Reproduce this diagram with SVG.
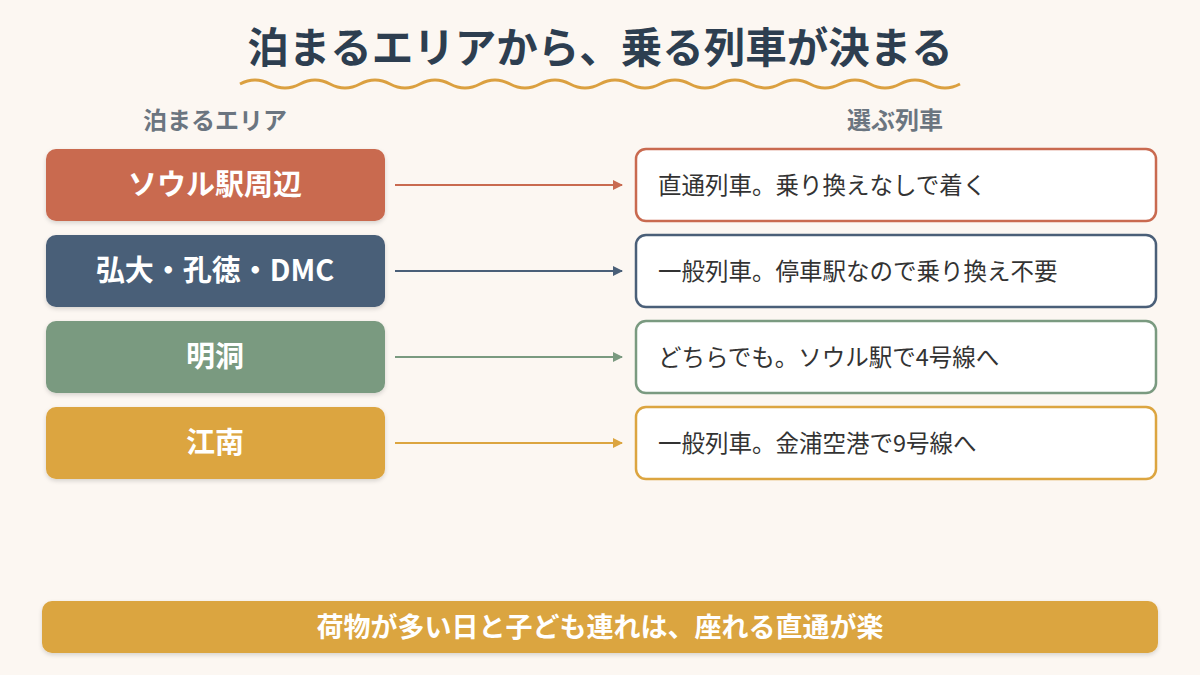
<svg xmlns="http://www.w3.org/2000/svg" width="1200" height="675" viewBox="0 0 1200 675">
<defs>
<style>
text{font-family:"Noto Sans CJK JP","Noto Sans",sans-serif}
.lt{fill:#fff;font-size:29px;font-weight:bold;text-anchor:middle}
.rt{fill:#333;font-size:23.5px}
.hd{fill:#6b7580;font-size:24px;font-weight:bold;text-anchor:middle}
.rb{fill:#fff;stroke-width:2.5}
</style>
<filter id="sh" x="-5%" y="-10%" width="110%" height="130%"><feDropShadow dx="0" dy="2" stdDeviation="2" flood-opacity="0.15"/></filter>
<marker id="a1" markerWidth="10" markerHeight="10" refX="9" refY="5" orient="auto" markerUnits="userSpaceOnUse"><path d="M0,0 L10,5 L0,10 z" fill="#c96a50"/></marker>
<marker id="a2" markerWidth="10" markerHeight="10" refX="9" refY="5" orient="auto" markerUnits="userSpaceOnUse"><path d="M0,0 L10,5 L0,10 z" fill="#4a5f78"/></marker>
<marker id="a3" markerWidth="10" markerHeight="10" refX="9" refY="5" orient="auto" markerUnits="userSpaceOnUse"><path d="M0,0 L10,5 L0,10 z" fill="#7a9a80"/></marker>
<marker id="a4" markerWidth="10" markerHeight="10" refX="9" refY="5" orient="auto" markerUnits="userSpaceOnUse"><path d="M0,0 L10,5 L0,10 z" fill="#dca540"/></marker>
</defs>
<rect width="1200" height="675" fill="#fcf7f2"/>
<text x="600" y="63" text-anchor="middle" font-size="41.5" font-weight="bold" fill="#2d3e50">泊まるエリアから、乗る列車が決まる</text>
<path d="M240,84 q15,-8 30,0 t30,0 t30,0 t30,0 t30,0 t30,0 t30,0 t30,0 t30,0 t30,0 t30,0 t30,0 t30,0 t30,0 t30,0 t30,0 t30,0 t30,0 t30,0 t30,0 t30,0 t30,0 t30,0 t30,0" fill="none" stroke="#dba040" stroke-width="3"/>
<text class="hd" x="215" y="129">泊まるエリア</text>
<text class="hd" x="895" y="129">選ぶ列車</text>
<g id="n1"><rect x="46" y="149" width="339" height="72" rx="10" fill="#c96a50" filter="url(#sh)"/><text class="lt" x="215" y="195">ソウル駅周辺</text></g>
<g id="n2"><rect x="46" y="235" width="339" height="72" rx="10" fill="#4a5f78" filter="url(#sh)"/><text class="lt" x="215" y="281">弘大・孔徳・DMC</text></g>
<g id="n3"><rect x="46" y="321" width="339" height="72" rx="10" fill="#7a9a80" filter="url(#sh)"/><text class="lt" x="215" y="367">明洞</text></g>
<g id="n4"><rect x="46" y="407" width="339" height="72" rx="10" fill="#dca540" filter="url(#sh)"/><text class="lt" x="215" y="453">江南</text></g>
<g id="r1"><rect class="rb" x="636" y="149" width="520" height="72" rx="10" stroke="#c96a50"/><text class="rt" x="658" y="194">直通列車。乗り換えなしで着く</text></g>
<g id="r2"><rect class="rb" x="636" y="235" width="520" height="72" rx="10" stroke="#4a5f78"/><text class="rt" x="658" y="280">一般列車。停車駅なので乗り換え不要</text></g>
<g id="r3"><rect class="rb" x="636" y="321" width="520" height="72" rx="10" stroke="#7a9a80"/><text class="rt" x="658" y="366">どちらでも。ソウル駅で4号線へ</text></g>
<g id="r4"><rect class="rb" x="636" y="407" width="520" height="72" rx="10" stroke="#dca540"/><text class="rt" x="658" y="452">一般列車。金浦空港で9号線へ</text></g>
<g id="connectors" stroke-width="2">
<line x1="395" y1="185" x2="622" y2="185" stroke="#c96a50" marker-end="url(#a1)"/>
<line x1="395" y1="271" x2="622" y2="271" stroke="#4a5f78" marker-end="url(#a2)"/>
<line x1="395" y1="357" x2="622" y2="357" stroke="#7a9a80" marker-end="url(#a3)"/>
<line x1="395" y1="443" x2="622" y2="443" stroke="#dca540" marker-end="url(#a4)"/>
</g>
<g id="footer"><rect x="42" y="601" width="1116" height="52" rx="10" fill="#dba540" filter="url(#sh)"/><text x="600" y="637" text-anchor="middle" font-size="27" font-weight="bold" fill="#fff">荷物が多い日と子ども連れは、座れる直通が楽</text></g>
</svg>
